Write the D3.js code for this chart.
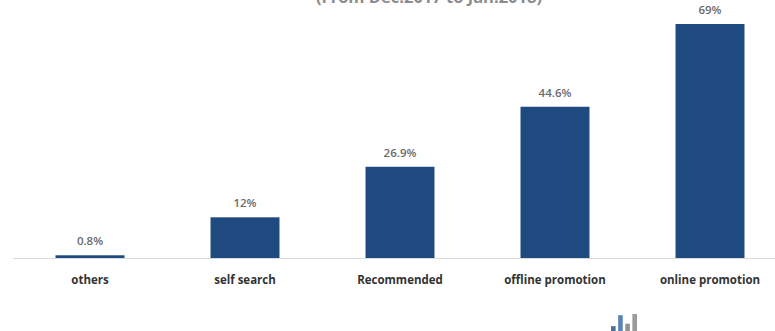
<!DOCTYPE html>
<html>
<head>
<meta charset="utf-8">
<script src="https://cdn.jsdelivr.net/npm/d3@7"></script>
<style>
  html, body { margin: 0; padding: 0; background: #fff; }
  svg { display: block; }
</style>
</head>
<body>
<svg id="chart" width="775" height="331"></svg>
<script>
// Channels through which users learned about the service (From Dec.2017 to Jan.2018)
const categories = ["others", "self search", "Recommended", "offline promotion", "online promotion"];
const shares = [0.8, 12, 26.9, 44.6, 69];
const valueLabels = ["0.8%", "12%", "26.9%", "44.6%", "69%"];
const titleText = "(From Dec.2017 to Jan.2018)";

// small brand mark in the footer
const logoBars = [4, 13, 6, 14];

const width = 775, height = 331;
const baseY = 258;
const svg = d3.select("#chart");

const x = d3.scaleBand()
  .domain(categories)
  .range([12.5, 787.5])
  .paddingInner(0.555)
  .paddingOuter(0.2775);

const y = d3.scaleLinear()
  .domain([0, 69])
  .range([baseY, 24]);

// title line, sitting at the very top edge
svg.append("text")
  .attr("x", 429)
  .attr("y", 3)
  .attr("text-anchor", "middle")
  .attr("font-family", "'Open Sans', sans-serif")
  .attr("font-weight", "bold")
  .attr("font-size", 16.5)
  .attr("fill", "#8c8c8c")
  .text(titleText);

// bars
svg.append("g")
  .selectAll("rect")
  .data(shares)
  .join("rect")
  .attr("x", (d, i) => x(categories[i]))
  .attr("y", d => y(d))
  .attr("width", x.bandwidth())
  .attr("height", d => baseY - y(d))
  .attr("fill", "#1f4a7f");

// category axis
const axis = svg.append("g")
  .attr("transform", `translate(0,${baseY})`)
  .call(d3.axisBottom(x).tickSize(0).tickPadding(18));
axis.select(".domain").attr("stroke", "#d9d9d9").attr("stroke-width", 1.2);
axis.selectAll("text")
  .attr("font-family", "'Open Sans', sans-serif")
  .attr("font-weight", "bold")
  .attr("font-size", 11.5)
  .attr("fill", "#333333");

// value labels
svg.append("g")
  .selectAll("text")
  .data(shares)
  .join("text")
  .attr("x", (d, i) => x(categories[i]) + x.bandwidth() / 2)
  .attr("y", d => y(d) - 10)
  .attr("text-anchor", "middle")
  .attr("font-family", "'Open Sans', sans-serif")
  .attr("font-weight", 600)
  .attr("font-size", 11.5)
  .attr("fill", "#6a6a6a")
  .text((d, i) => valueLabels[i]);

// footer logo
const logo = d3.scaleBand().domain(d3.range(logoBars.length)).range([611, 637]).paddingInner(0.35);
const logoY = d3.scaleLinear().domain([0, 14]).range([331, 314]);
const logoColors = ["#2e5683", "#3c6ea8", "#7f7f7f", "#8a8a8a"];
svg.append("g")
  .selectAll("rect")
  .data(logoBars)
  .join("rect")
  .attr("x", (d, i) => logo(i))
  .attr("y", d => logoY(d))
  .attr("width", logo.bandwidth())
  .attr("height", d => 331 - logoY(d))
  .attr("fill", (d, i) => logoColors[i])
  .attr("opacity", 0.85);
</script>
</body>
</html>
